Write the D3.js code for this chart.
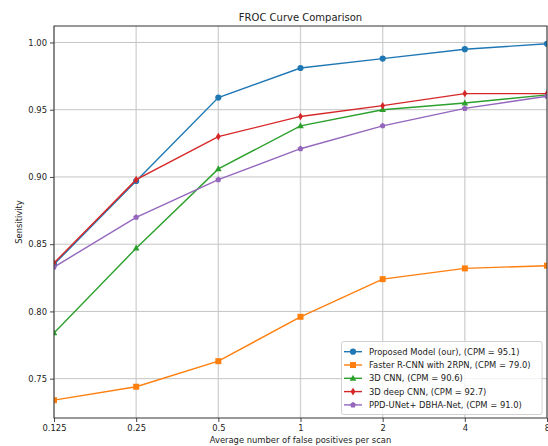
<!DOCTYPE html>
<html><head><meta charset="utf-8">
<script src="https://cdn.jsdelivr.net/npm/d3@7"></script>
<style>
html,body{margin:0;padding:0;background:#fff;}
svg{display:block;font-family:"DejaVu Sans",sans-serif;}
</style></head>
<body><svg id="c" width="548" height="446"></svg>
<script>
const fpValues = [0.125, 0.25, 0.5, 1, 2, 4, 8];
const tickLabels = ["0.125", "0.25", "0.5", "1", "2", "4", "8"];
const yTicks = [0.75, 0.80, 0.85, 0.90, 0.95, 1.00];
const seriesNames = [
  "Proposed Model (our), (CPM = 95.1)",
  "Faster R-CNN with 2RPN, (CPM = 79.0)",
  "3D CNN, (CPM = 90.6)",
  "3D deep CNN, (CPM = 92.7)",
  "PPD-UNet+ DBHA-Net, (CPM = 91.0)"
];
const proposed = [0.835, 0.897, 0.959, 0.981, 0.988, 0.995, 0.999];
const fasterRcnn = [0.734, 0.744, 0.763, 0.796, 0.824, 0.832, 0.834];
const cnn3d = [0.784, 0.847, 0.906, 0.938, 0.950, 0.955, 0.961];
const deepCnn3d = [0.836, 0.898, 0.930, 0.945, 0.953, 0.962, 0.962];
const ppdUnet = [0.833, 0.870, 0.898, 0.921, 0.938, 0.951, 0.960];
const colors = ["#1f77b4", "#ff7f0e", "#2ca02c", "#d62728", "#9467bd"];
const markers = ["circle", "square", "triangle", "diamond", "pentagon"];

const allSeries = [proposed, fasterRcnn, cnn3d, deepCnn3d, ppdUnet];
const L = 54, R = 547, T = 26, B = 418;
const svg = d3.select("#c");
const x = d3.scaleLog().base(2).domain([0.125, 8]).range([L, R]);
const allVals = allSeries.flat();
const mn = d3.min(allVals), mx = d3.max(allVals), pad = (mx - mn) * 0.05;
const y = d3.scaleLinear().domain([mn - pad, mx + pad]).range([B, T]);

svg.append("defs").append("clipPath").attr("id", "clip")
  .append("rect").attr("x", L).attr("y", T).attr("width", R - L).attr("height", B - T);

// grid
const grid = svg.append("g");
grid.selectAll("line.gx").data(fpValues).join("line")
  .attr("x1", d => x(d)).attr("x2", d => x(d)).attr("y1", T).attr("y2", B)
  .attr("stroke", "#d4d4d4").attr("stroke-width", 1.4);
grid.selectAll("line.gy").data(yTicks).join("line")
  .attr("y1", d => y(d)).attr("y2", d => y(d)).attr("x1", L).attr("x2", R)
  .attr("stroke", "#c4c4c4").attr("stroke-width", 1);

function markerPath(type) {
  switch (type) {
    case "circle": return d3.symbol(d3.symbolCircle, 30)();
    case "square": return "M-3,-3H3V3H-3Z";
    case "triangle": return "M0,-3.6L3.3,2.4H-3.3Z";
    case "diamond": return "M0,-3.8L2.4,0L0,3.8L-2.4,0Z";
    case "pentagon": {
      const pts = d3.range(5).map(i => {
        const a = -Math.PI / 2 + i * 2 * Math.PI / 5;
        return [3.1 * Math.cos(a), 3.1 * Math.sin(a)];
      });
      return "M" + pts.map(p => p.join(",")).join("L") + "Z";
    }
  }
}

const plot = svg.append("g").attr("clip-path", "url(#clip)");
const line = d3.line().x((d, i) => x(fpValues[i])).y(d => y(d));
allSeries.forEach((s, k) => {
  const g = plot.append("g");
  g.append("path").attr("d", line(s)).attr("fill", "none")
    .attr("stroke", colors[k]).attr("stroke-width", 1.4);
  g.selectAll("path.m").data(s).join("path").attr("class", "m")
    .attr("d", markerPath(markers[k]))
    .attr("transform", (d, i) => `translate(${x(fpValues[i])},${y(d)})`)
    .attr("fill", colors[k]);
});

// spines
svg.append("rect").attr("x", L).attr("y", T).attr("width", R - L).attr("height", B - T)
  .attr("fill", "none").attr("stroke", "#333").attr("stroke-width", 1);

// axes
const xAxis = d3.axisBottom(x).tickValues(fpValues).tickFormat((d, i) => tickLabels[i])
  .tickSizeInner(4).tickSizeOuter(0).tickPadding(3);
const gx = svg.append("g").attr("transform", `translate(0,${B})`).call(xAxis);
const yAxis = d3.axisLeft(y).tickValues(yTicks).tickFormat(d3.format(".2f"))
  .tickSizeInner(4).tickSizeOuter(0).tickPadding(3);
const gy = svg.append("g").attr("transform", `translate(${L},0)`).call(yAxis);
[gx, gy].forEach(g => {
  g.select(".domain").remove();
  g.selectAll(".tick line").attr("stroke", "#333").attr("stroke-width", 0.9);
  g.selectAll(".tick text").attr("fill", "#222").attr("font-size", 8.4)
    .attr("font-family", "DejaVu Sans");
});

svg.append("text").attr("x", (L + R) / 2).attr("y", 21).attr("text-anchor", "middle")
  .attr("font-size", 10).attr("fill", "#222").text("FROC Curve Comparison");
svg.append("text").attr("x", (L + R) / 2).attr("y", 443).attr("text-anchor", "middle")
  .attr("font-size", 8.4).attr("fill", "#222").text("Average number of false positives per scan");
svg.append("text").attr("transform", `translate(22,${(T + B) / 2}) rotate(-90)`)
  .attr("text-anchor", "middle").attr("font-size", 8.4).attr("fill", "#222").text("Sensitivity");

// legend
const lg = svg.append("g");
lg.append("rect").attr("x", 341.5).attr("y", 341.5).attr("width", 200.5).attr("height", 73)
  .attr("rx", 2).attr("fill", "#fff").attr("fill-opacity", 0.8)
  .attr("stroke", "#cccccc").attr("stroke-width", 0.9);
seriesNames.forEach((n, k) => {
  const cy = 351.7 + k * 13.3;
  lg.append("line").attr("x1", 344).attr("x2", 362).attr("y1", cy).attr("y2", cy)
    .attr("stroke", colors[k]).attr("stroke-width", 1.4);
  lg.append("path").attr("d", markerPath(markers[k]))
    .attr("transform", `translate(353,${cy})`).attr("fill", colors[k]);
  lg.append("text").attr("x", 369).attr("y", cy + 3).attr("font-size", 8.4)
    .attr("fill", "#222").text(n);
});
</script></body></html>
